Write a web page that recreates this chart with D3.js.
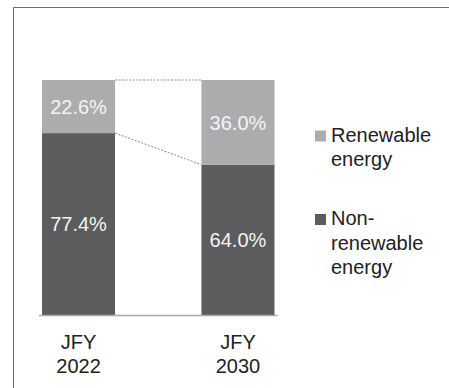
<!DOCTYPE html>
<html>
<head>
<meta charset="utf-8">
<script src="https://cdn.jsdelivr.net/npm/d3@7"></script>
<style>
    body { margin: 0; background: #fff; }
    svg text { font-family: "Liberation Sans", Arial, sans-serif; }
</style>
</head>
<body>
<svg class="mix-chart" width="449" height="388"></svg>
<script>
// Data
const years = ["2022", "2030"];
const yearPrefix = "JFY";
const renewable = [22.6, 36.0];
const nonRenewable = [77.4, 64.0];
const seriesNames = ["Renewable energy", "Non-renewable energy"];
const legendLines = [["Renewable", "energy"], ["Non-", "renewable", "energy"]];

const colors = { nonRenewable: "#5c5c5e", renewable: "#acacae" };

let svg = d3.select('.mix-chart');

// outer frame (only top and left edges are visible)
svg.append('path')
    .attr('d', 'M13.5,388V7.5H449')
    .attr('fill', 'none')
    .attr('stroke', '#6a6a6a')
    .attr('stroke-width', 1);

// Scales
const xScale = d3.scaleBand()
    .domain(years)
    .range([39, 277.5])
    .paddingInner(0.542)
    .paddingOuter(0.019);
const yScale = d3.scaleLinear()
    .domain([0, 100])
    .range([315, 80]);

// stacked rows, non-renewable at the bottom
const rows = years.map((y, i) => ({ year: y, nonRenewable: nonRenewable[i], renewable: renewable[i] }));
const stacked = d3.stack().keys(["nonRenewable", "renewable"])(rows);

let layers = svg.selectAll('g.layer')
    .data(stacked)
    .enter()
    .append('g')
    .attr('class', 'layer')
    .attr('fill', (d) => colors[d.key]);

layers.selectAll('rect')
    .data((d) => d)
    .enter()
    .append('rect')
    .attr('x', (d) => xScale(d.data.year))
    .attr('y', (d) => yScale(d[1]))
    .attr('width', xScale.bandwidth())
    .attr('height', (d) => yScale(d[0]) - yScale(d[1]));

// value labels
layers.selectAll('text')
    .data((d) => d.map((p) => ({ p: p, key: d.key })))
    .enter()
    .append('text')
    .attr('x', (d) => xScale(d.p.data.year) + xScale.bandwidth() / 2)
    .attr('y', (d) => (yScale(d.p[0]) + yScale(d.p[1])) / 2)
    .attr('dy', '0.36em')
    .attr('text-anchor', 'middle')
    .attr('font-size', 20)
    .attr('fill', '#f4f4f4')
    .text((d) => d.p.data[d.key].toFixed(1) + '%');

// dotted series lines between the bars
stacked.forEach((layer) => {
    const a = layer[0], b = layer[1];
    svg.append('line')
        .attr('x1', xScale(a.data.year) + xScale.bandwidth())
        .attr('x2', xScale(b.data.year))
        .attr('y1', yScale(a[1]))
        .attr('y2', yScale(b[1]))
        .attr('stroke', '#8a8a8a')
        .attr('stroke-width', 1)
        .attr('stroke-dasharray', '2,1.5');
});

// x axis line + two-line labels
svg.append('line')
    .attr('x1', xScale.range()[0])
    .attr('x2', xScale.range()[1])
    .attr('y1', yScale(0) + 0.5)
    .attr('y2', yScale(0) + 0.5)
    .attr('stroke', '#a8a8a8')
    .attr('stroke-width', 1.5);

let xLabels = svg.selectAll('text.x-label')
    .data(years)
    .enter()
    .append('text')
    .attr('class', 'x-label')
    .attr('text-anchor', 'middle')
    .attr('font-size', 20)
    .attr('fill', '#222');
xLabels.append('tspan')
    .attr('x', (d) => xScale(d) + xScale.bandwidth() / 2)
    .attr('y', 349)
    .text(yearPrefix);
xLabels.append('tspan')
    .attr('x', (d) => xScale(d) + xScale.bandwidth() / 2)
    .attr('y', 372.5)
    .text((d) => d);

// Legend
const legendConfig = { x: 315, side: 11, textX: 331, lineH: 24.5 };
const legendData = [
    { key: "renewable", name: seriesNames[0], lines: legendLines[0], top: 141.5 },
    { key: "nonRenewable", name: seriesNames[1], lines: legendLines[1], top: 225 }
];

let legend = svg.selectAll('g.legend')
    .data(legendData)
    .enter()
    .append('g')
    .attr('class', 'legend');

legend.append('rect')
    .attr('x', legendConfig.x)
    .attr('y', (d) => d.top - legendConfig.side)
    .attr('width', legendConfig.side)
    .attr('height', legendConfig.side)
    .attr('fill', (d) => colors[d.key]);

legend.append('text')
    .attr('font-size', 20)
    .attr('fill', '#222')
    .selectAll('tspan')
    .data((d) => d.lines.map((t, i) => ({ t: t, y: d.top + i * legendConfig.lineH })))
    .enter()
    .append('tspan')
    .attr('x', legendConfig.textX)
    .attr('y', (d) => d.y)
    .text((d) => d.t);
</script>
</body>
</html>
